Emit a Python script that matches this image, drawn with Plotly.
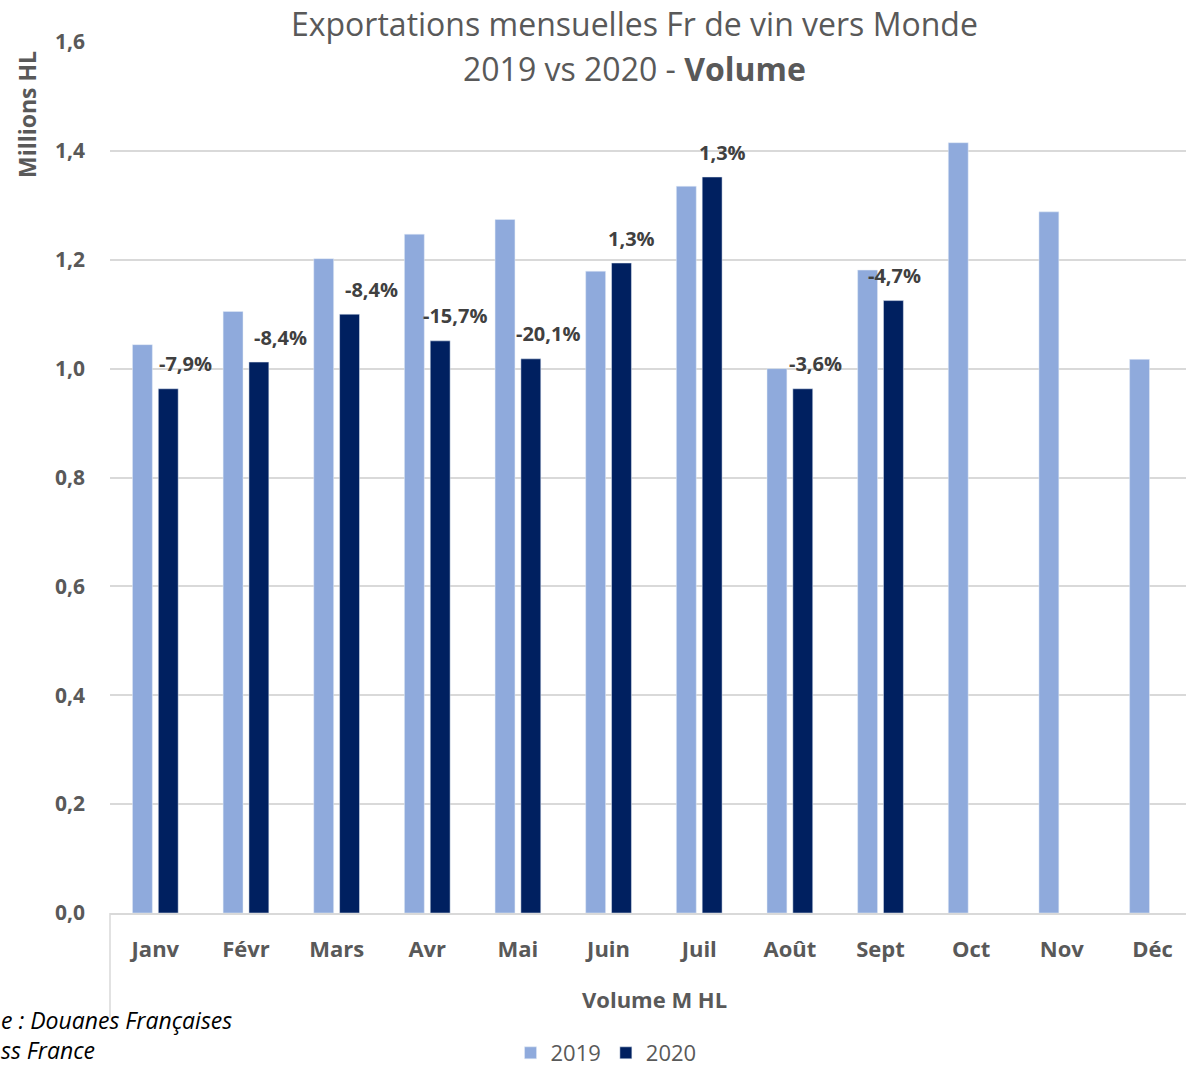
import plotly.graph_objects as go

months = ["Janv", "Févr", "Mars", "Avr", "Mai", "Juin", "Juil", "Août", "Sept", "Oct", "Nov", "Déc"]
vol_2019 = [1.044, 1.105, 1.202, 1.247, 1.274, 1.179, 1.335, 1.000, 1.181, 1.415, 1.288, 1.017]
vol_2020 = [0.963, 1.012, 1.100, 1.051, 1.018, 1.194, 1.352, 0.963, 1.125, None, None, None]
var_labels = ["-7,9%", "-8,4%", "-8,4%", "-15,7%", "-20,1%", "1,3%", "1,3%", "-3,6%", "-4,7%"]
y_ticks = [0.0, 0.2, 0.4, 0.6, 0.8, 1.0, 1.2, 1.4, 1.6]

label_xshift = [30, 35, 35, 28, 30, 23, 23, 26, 14]

FONT = "Open Sans"
GRAY = "#595959"

fig = go.Figure()
fig.add_trace(go.Bar(name="2019", x=months, y=vol_2019, marker_color="#8FAADC"))
fig.add_trace(go.Bar(name="2020", x=months, y=vol_2020, marker_color="#002060"))

annotations = []
for i, lab in enumerate(var_labels):
    annotations.append(dict(
        x=months[i], y=vol_2020[i], xref="x", yref="y", text=lab,
        showarrow=False, xanchor="center", yanchor="middle",
        xshift=label_xshift[i], yshift=25,
        font=dict(family=FONT, size=20, color="#404040", weight="bold")))

annotations += [
    dict(text="Exportations mensuelles Fr de vin vers Monde", xref="paper", yref="paper",
         x=0.487, y=1.0, xanchor="center", yanchor="middle", yshift=19, showarrow=False,
         font=dict(family=FONT, size=32, color=GRAY)),
    dict(text="2019 vs 2020 - <b>Volume</b>", xref="paper", yref="paper",
         x=0.487, y=1.0, xanchor="center", yanchor="middle", yshift=-26, showarrow=False,
         font=dict(family=FONT, size=32, color=GRAY)),
    dict(text="Millions HL", xref="paper", yref="paper", x=0, y=1.0,
         xshift=-83, yshift=-73, textangle=-90, xanchor="center", yanchor="middle",
         showarrow=False, font=dict(family=FONT, size=23, color=GRAY, weight="bold")),
    dict(text="Volume M HL", xref="paper", yref="paper", x=0.506, y=0,
         yshift=-86, xanchor="center", yanchor="middle", showarrow=False,
         font=dict(family=FONT, size=22, color=GRAY, weight="bold")),
    dict(text="<i>e : Douanes Françaises</i>", xref="paper", yref="paper", x=0, y=0,
         xshift=-111, yshift=-107, xanchor="left", yanchor="middle", showarrow=False,
         font=dict(family=FONT, size=23, color="#000000")),
    dict(text="<i>ss France</i>", xref="paper", yref="paper", x=0, y=0,
         xshift=-111, yshift=-137, xanchor="left", yanchor="middle", showarrow=False,
         font=dict(family=FONT, size=23, color="#000000")),
]

fig.update_layout(
    width=1186, height=1067,
    margin=dict(l=110, r=0, t=42, b=154),
    plot_bgcolor="white", paper_bgcolor="white",
    barmode="group", bargap=0.43, bargroupgap=0.23,
    separators=", ",
    font=dict(family=FONT, color=GRAY),
    showlegend=True,
    legend=dict(orientation="h", x=0.461, xref="paper", y=0.0131, yref="container",
                xanchor="center", yanchor="middle",
                font=dict(family=FONT, size=22, color=GRAY), itemwidth=30,
                traceorder="normal"),
    annotations=annotations,
    shapes=[dict(type="line", xref="paper", yref="paper", x0=0, x1=0, y0=0, y1=-0.12,
                 line=dict(color="#d9d9d9", width=1.5))],
)
fig.update_xaxes(range=[-0.5, 11.37], showgrid=False, showline=True, linecolor="#d9d9d9",
                 linewidth=1.5, ticks="", ticklabelstandoff=16, automargin=False,
                 tickfont=dict(family=FONT, size=22, color=GRAY, weight="bold"))
fig.update_yaxes(range=[0, 1.6], tickvals=y_ticks, tickformat=".1f", showgrid=True,
                 gridcolor="#d9d9d9", gridwidth=1.5, zeroline=False, showline=False,
                 ticks="", ticklabelstandoff=24, automargin=False,
                 tickfont=dict(family=FONT, size=21, color=GRAY, weight="bold"))

fig.write_html(
    "out.html",
    config={"displayModeBar": False},
    post_script="document.body.style.margin='0';document.body.style.overflow='hidden';",
)
